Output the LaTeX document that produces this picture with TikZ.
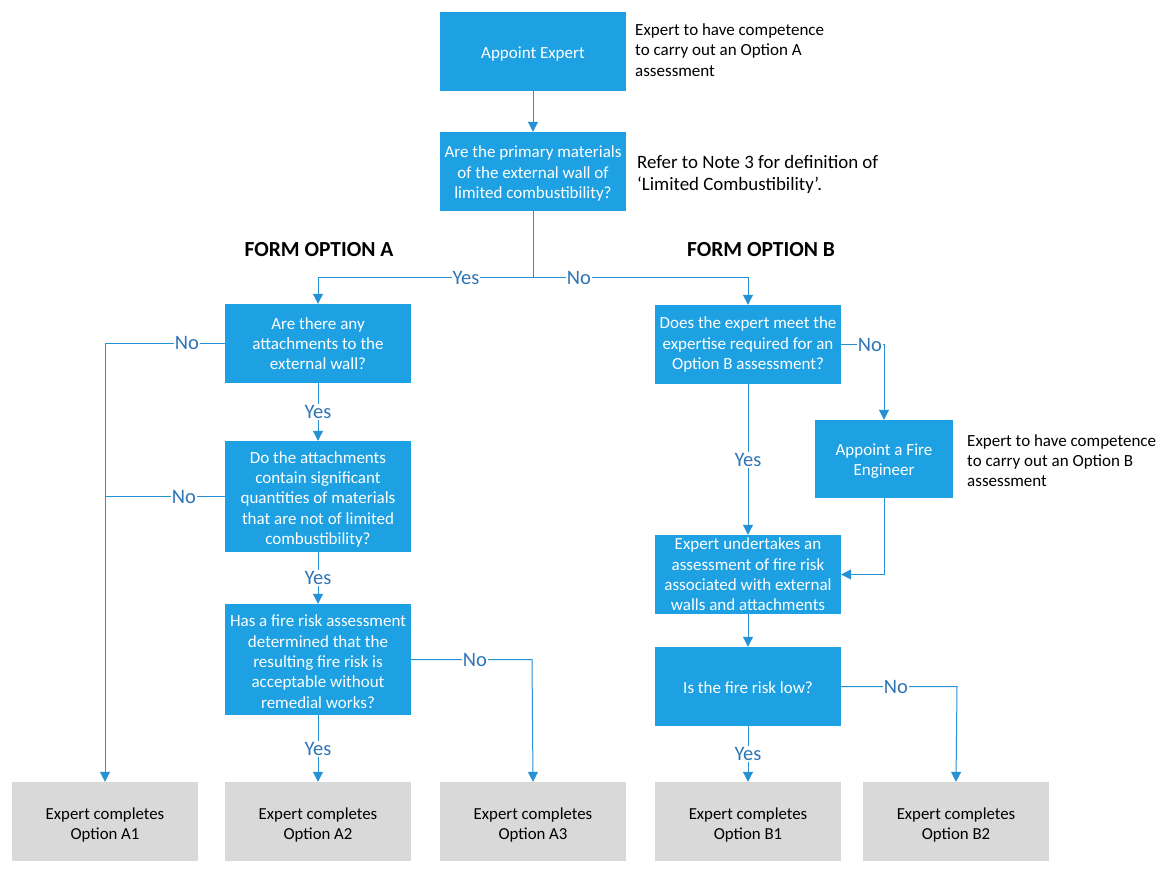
\documentclass[tikz,border=0pt]{standalone}
\usepackage{fontspec}
\setmainfont{Carlito}
\usetikzlibrary{arrows.meta}
\definecolor{boxblue}{RGB}{29,161,226}
\definecolor{lineblue}{RGB}{36,146,212}
\definecolor{lblblue}{RGB}{46,117,182}
\definecolor{boxgray}{RGB}{217,217,217}
\newcommand\toppad{\rule{0pt}{19.5pt}}
\newcommand\qpad{\rule{0pt}{16pt}}
\tikzset{
  qbox/.style={fill=boxblue, text=white, minimum width=186pt, minimum height=79pt, align=center, inner sep=2pt, font=\fontsize{17}{20.3}\selectfont},
  tallbox/.style={qbox, minimum height=111pt},
  endbox/.style={fill=boxgray, text=black, minimum width=186pt, minimum height=79pt, align=center, inner sep=2pt, font=\fontsize{16.8}{20}\selectfont},
  note/.style={anchor=west, align=left, inner sep=0pt, text=black, font=\fontsize{17}{20.3}\selectfont},
  bignote/.style={note, font=\fontsize{18.9}{22}\selectfont},
  lbl/.style={fill=white, text=lblblue, inner sep=1pt, font=\fontsize{20.5}{22}\selectfont},
  title/.style={font=\fontsize{21.5}{24}\selectfont\bfseries, text=black, inner sep=0pt},
  conn/.style={draw=lineblue, line width=1pt},
  arr/.style={conn, -{Triangle[width=10pt,length=10pt]}},
}
\begin{document}
\begin{tikzpicture}[x=1pt,y=-1pt]
\useasboundingbox (0,0) rectangle (1169,874);
% main column
\node[qbox] (appoint) at (533,51.5) {\rule{0pt}{16.5pt}Appoint Expert};
\node[qbox] (q1) at (533,171.5) {\qpad Are the primary materials\\of the external wall of\\limited combustibility?};
\node[note] (n1) at (635,50) {Expert to have competence\\to carry out an Option A\\assessment};
\node[bignote] (n2) at (637,174) {Refer to Note 3 for definition of\\`Limited Combustibility'.};
\node[title] (ta) at (319,250) {FORM OPTION A};
\node[title] (tb) at (761,250) {FORM OPTION B};
% option A
\node[qbox] (qa1) at (318,343.5) {Are there any\\attachments to the\\external wall?};
\node[tallbox] (qa2) at (318,496.5) {\rule{0pt}{17.5pt}Do the attachments\\contain significant\\quantities of materials\\that are not of limited\\combustibility?};
\node[tallbox] (qa3) at (318,659.5) {\qpad Has a fire risk assessment\\determined that the\\resulting fire risk is\\acceptable without\\remedial works?};
% option B
\node[qbox] (qb1) at (748,344.5) {Does the expert meet the\\expertise required for an\\Option B assessment?};
\node[qbox, minimum width=138pt, minimum height=78pt] (fire) at (884,459) {\qpad Appoint a Fire\\Engineer};
\node[note] (n3) at (967,460.5) {Expert to have competence\\to carry out an Option B\\assessment};
\node[qbox] (under) at (748,574.5) {Expert undertakes an\\assessment of fire risk\\associated with external\\walls and attachments};
\node[qbox] (low) at (748,686.5) {\rule{0pt}{15pt}Is the fire risk low?};
% end boxes
\node[endbox] (a1) at (105,821.5) {\toppad Expert completes\\Option A1};
\node[endbox] (a2) at (318,821.5) {\toppad Expert completes\\Option A2};
\node[endbox] (a3) at (533,821.5) {\toppad Expert completes\\Option A3};
\node[endbox] (b1) at (748,821.5) {\toppad Expert completes\\Option B1};
\node[endbox] (b2) at (956,821.5) {\toppad Expert completes\\Option B2};
% coordinates
\coordinate (split) at (533,278);
\coordinate (aleft) at (105,343.5);
\coordinate (a2left) at (105,496.5);
\coordinate (a3right) at (532,659.5);
\coordinate (fireturn) at (884,574.5);
\coordinate (lowright) at (957,686.5);
% connectors
\draw[arr] (appoint) -- (q1);
\draw[conn] (q1.south) -- (split);
\draw[arr] (split) -| (qa1.north);
\draw[arr] (split) -| (qb1.north);
\draw[conn] (qa1.west) -- (aleft);
\draw[arr] (aleft) -- (a1.north);
\draw[conn] (qa2.west) -- (a2left);
\draw[arr] (qa1) -- (qa2);
\draw[arr] (qa2) -- (qa3);
\draw[arr] (qa3) -- (a2);
\draw[arr] (qa3.east) -- (a3right) -- (a3.north);
\draw[arr] (qb1.east) -| (fire.north);
\draw[arr] (qb1) -- (under);
\draw[arr] (fire.south) -- (fireturn) -- (under.east);
\draw[arr] (under) -- (low);
\draw[arr] (low) -- (b1);
\draw[arr] (low.east) -- (lowright) -- (b2.north);
% labels
\node[lbl] (l1) at (466,278) {Yes};
\node[lbl] (l2) at (579,278) {No};
\node[lbl] (l3) at (187,343) {No};
\node[lbl] (l4) at (318,412) {Yes};
\node[lbl] (l5) at (184,497) {No};
\node[lbl] (l6) at (318,578) {Yes};
\node[lbl] (l7) at (475,659.5) {No};
\node[lbl] (l8) at (318,749) {Yes};
\node[lbl, inner sep=0.5pt] (l9) at (870,345) {No};
\node[lbl] (l10) at (748,460) {Yes};
\node[lbl] (l11) at (896,687) {No};
\node[lbl] (l12) at (748,754) {Yes};
\end{tikzpicture}
\end{document}
